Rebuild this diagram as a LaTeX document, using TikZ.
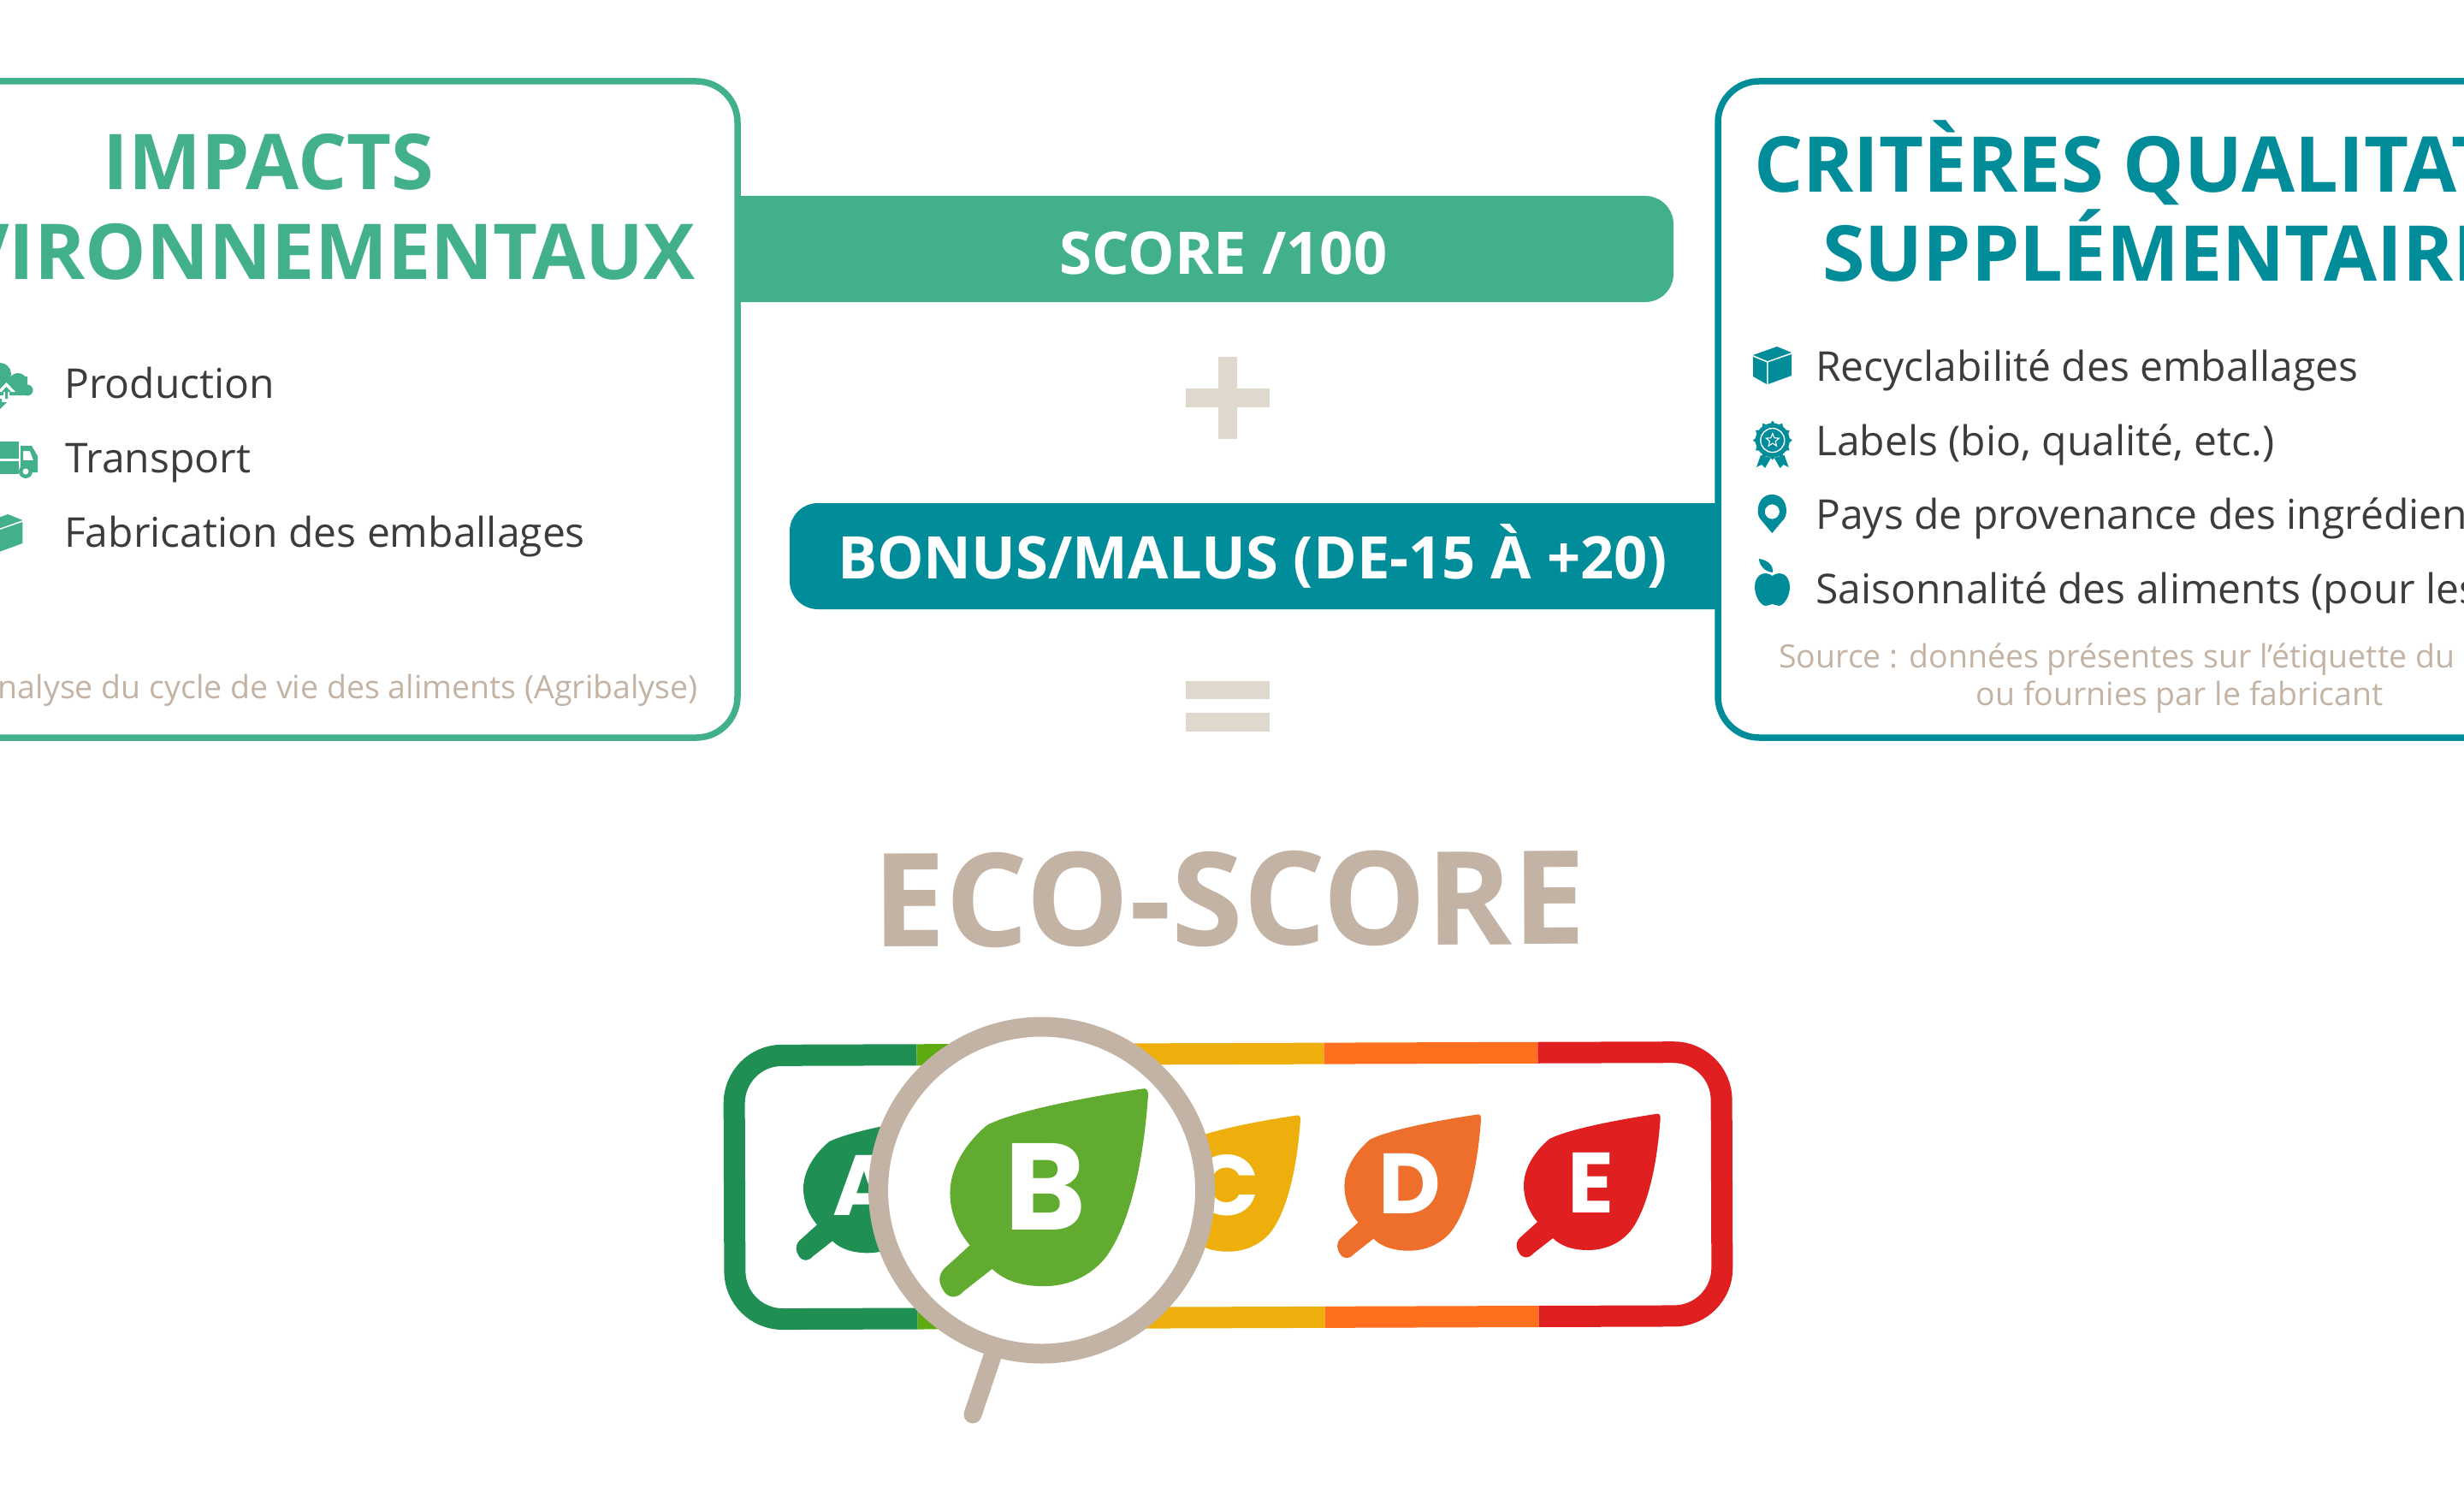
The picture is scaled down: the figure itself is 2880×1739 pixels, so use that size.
\documentclass[tikz,border=0pt]{standalone}
\usepackage{fontspec}
\setmainfont{Open Sans}
\newfontfamily\leaffont{Poppins}
\definecolor{ecoGreen}{HTML}{42B18B}
\definecolor{ecoTeal}{HTML}{008C99}
\definecolor{ecoSand}{HTML}{C3B3A5}
\definecolor{ecoPale}{HTML}{DFD8CC}
\definecolor{ecoDark}{HTML}{3C3C3B}
\definecolor{frameA}{HTML}{1F8F53}
\definecolor{frameB}{HTML}{5DAB10}
\definecolor{frameC}{HTML}{EEAF0D}
\definecolor{frameD}{HTML}{FF6F1E}
\definecolor{frameE}{HTML}{E01F20}
\definecolor{leafB}{HTML}{61AB31}
\definecolor{leafD}{HTML}{EE6E2B}
\newcommand{\fsz}[1]{\fontsize{#1}{#1}\selectfont}
\newcommand{\leafpath}{(75,-83) .. controls (35,-77) and (-25,-66) .. (-49,-54)
  .. controls (-68,-38) and (-79,-18) .. (-79,0.6)
  .. controls (-79,15) and (-74,30) .. (-63,43) -- (-84,62)
  .. controls (-89,68) and (-88,74) .. (-84,80)
  .. controls (-80,86) and (-73,86) .. (-68,80) -- (-45,62)
  .. controls (-35,72) and (-20,76) .. (-4,76)
  .. controls (20,76) and (37,65) .. (47,52)
  .. controls (70,20) and (78,-40) .. (80.6,-77)
  .. controls (81,-83) and (79,-84) .. (75,-83) -- cycle}
\newcommand{\boxicon}[1]{%
  \fill[#1] (0,10) -- (28,0) -- (45,7) -- (17,17) -- cycle;
  \fill[#1] (0,12) -- (16,18.5) -- (16,44) -- (0,35) -- cycle;
  \fill[#1] (17.5,18.5) -- (45,9) -- (45,34) -- (17.5,44) -- cycle;}
\tikzset{
  x=1pt,y=-1pt,
  title/.style={font=\fsz{90}\bfseries,inner sep=0pt},
  item/.style={font=\fsz{48},text=ecoDark,inner sep=0pt,anchor=base west},
  source/.style={font=\fsz{37.5},text=ecoSand,inner sep=0pt},
  bartext/.style={font=\fsz{68.7}\bfseries,text=white,inner sep=0pt,anchor=base},
  sign/.style={fill=ecoPale},
  leafletter/.style={text=white,inner sep=0pt,anchor=base},
}
\begin{document}
\begin{tikzpicture}
\useasboundingbox (0,0) rectangle (2880,1739);
\clip (0,0) rectangle (2880,1739);

% score bar
\fill[ecoGreen] (862,229) {[rounded corners=33pt] -- (1956,229) -- (1956,353)} -- (862,353) -- cycle;
\node[bartext] (score) at (1430,320.5) {SCORE /100};

% bonus bar
\fill[ecoTeal] (2008,588) {[rounded corners=33pt] -- (923,588) -- (923,712)} -- (2008,712) -- cycle;
\node[bartext] (bonus) at (1464,676) {BONUS/MALUS (DE-15 À +20)};

% left box
\draw[ecoGreen,line width=7.5pt,rounded corners=48pt] (-120,95) rectangle (862,862);
\node[title,text=ecoGreen,anchor=base] (t1) at (314,222) {IMPACTS};
\node[title,text=ecoGreen,anchor=base east] (t2) at (813,326) {ENVIRONNEMENTAUX};
\node[item] (l1) at (75,465) {Production};
\node[item] (l2) at (76,552) {Transport};
\node[item] (l3) at (75,639) {Fabrication des emballages};
\node[source,anchor=base east] (l4) at (816,816) {Analyse du cycle de vie des aliments (Agribalyse)};

% left icons
\fill[ecoGreen] (0,437) circle[radius=13pt] (21,447) circle[radius=11pt] (32,456) circle[radius=6.5pt] (-10,440) rectangle (32,462);
\fill[white] (7.5,447) -- (18,458) -- (11,458) -- (11,470) -- (4,470) -- (4,458) -- (-3,458) -- cycle;
\fill[ecoGreen] (7.5,452) -- (13,458) -- (9,458) -- (9,466) -- (6,466) -- (6,458) -- (2,458) -- cycle;
\fill[ecoGreen] (-7,466) -- (2,466) -- (2,470) -- (8,470) -- (0,478) -- (-8,470) -- cycle;
\fill[ecoGreen] (-5,515.6) rectangle (22,536);
\fill[ecoGreen] (-5,539) rectangle (22,554);
\fill[ecoGreen,even odd rule] (24,521) -- (37,521) -- (44,533) -- (44,552) -- (24,552) -- cycle (27,527) -- (27,538) -- (39,538) -- (35,527) -- cycle;
\fill[ecoGreen] (30,551) circle[radius=8pt];
\fill[white] (30,551) circle[radius=3.5pt];
\begin{scope}[shift={(-18.6,601)}]\boxicon{ecoGreen}\end{scope}

% right box
\draw[ecoTeal,line width=7.5pt,rounded corners=48pt] (2008,95) rectangle (3000,862);
\node[title,text=ecoTeal,anchor=base west] (t3) at (2050,224.5) {CRITÈRES QUALITATIFS};
\node[title,text=ecoTeal,anchor=base west] (t4) at (2130,328.5) {SUPPLÉMENTAIRES};
\node[item] (r1) at (2122,445) {Recyclabilité des emballages};
\node[item] (r2) at (2122,532) {Labels (bio, qualité, etc.)};
\node[item] (r3) at (2122,618.5) {Pays de provenance des ingrédients};
\node[item] (r4) at (2122,705) {Saisonnalité des aliments (pour les};
\node[source,anchor=base west] (r5) at (2079,780) {Source : données présentes sur l’étiquette du produit};
\node[source,anchor=base west] (r6) at (2309.5,824) {ou fournies par le fabricant};

% right icons
\begin{scope}[shift={(2049,405)}]\boxicon{ecoTeal}\end{scope}
\fill[ecoTeal] (2071.8,514.6) circle[radius=20pt];
\foreach \a in {0,30,...,330} {\fill[ecoTeal,shift={(2071.8,514.6)}] (\a-10:19pt) -- (\a:23pt) -- (\a+10:19pt) -- cycle;}
\draw[white,line width=1.4pt] (2071.8,514.6) circle[radius=14pt];
\draw[white,line width=1.1pt,shift={(2071.8,514.6)}] (90:8pt) -- (126:3.5pt) -- (162:8pt) -- (198:3.5pt) -- (234:8pt) -- (270:3.5pt) -- (306:8pt) -- (342:3.5pt) -- (18:8pt) -- (54:3.5pt) -- cycle;
\fill[ecoTeal] (2058,532) -- (2053,546) -- (2059,543) -- (2063,547) -- (2070,535) -- cycle;
\fill[ecoTeal] (2085.6,532) -- (2090.6,546) -- (2084.6,543) -- (2080.6,547) -- (2073.6,535) -- cycle;
\fill[ecoTeal,even odd rule] (2071.3,623) -- (2057,606) .. controls (2052,599) and (2054,578) .. (2071.3,578) .. controls (2088.6,578) and (2090.6,599) .. (2085.6,606) -- cycle (2071.3,598) circle[radius=8.6pt];
\fill[ecoTeal] (2071.5,673) .. controls (2062,666) and (2051,672) .. (2051,686) .. controls (2051,697) and (2058,708) .. (2064,708) .. controls (2067,708) and (2069,706) .. (2071.5,706) .. controls (2074,706) and (2076,708) .. (2079,708) .. controls (2085,708) and (2092,697) .. (2092,686) .. controls (2092,672) and (2081,666) .. (2071.5,673) -- cycle;
\fill[ecoTeal] (2056,653) .. controls (2068,655) and (2073,662) .. (2072,669) .. controls (2062,668) and (2056,660) .. (2056,653) -- cycle;

% plus and equals
\fill[sign] (1424,416.5) rectangle (1446,512.5);
\fill[sign] (1386,454) rectangle (1484,475.5);
\fill[sign] (1386,796) rectangle (1484,817.4);
\fill[sign] (1386,833) rectangle (1484,854.5);

% eco-score
\node[font=\fsz{152}\bfseries,text=ecoSand,inner sep=0pt,anchor=base,rotate=0.2] (eco) at (1437,1105) {ECO-SCORE};

% label frame
\begin{scope}[rotate around={0.2:(1435.5,1385.6)}]
  \foreach \xa/\xb/\c in {800/1072/frameA,1072/1326/frameB,1326/1548/frameC,1548/1798/frameD,1798/2100/frameE}{
    \begin{scope}
      \clip (\xa,1150) rectangle (\xb,1620);
      \draw[\c,line width=25pt,rounded corners=56pt] (858.5,1231.5) rectangle (2012.5,1539.75);
    \end{scope}}
\end{scope}

% leaves
\fill[frameA,shift={(1018,1388.3)}] \leafpath;
\node[leafletter,font=\fsz{100}\leaffont\bfseries] (la) at (1010,1420) {A};
\fill[frameC,shift={(1439.3,1386.7)}] \leafpath;
\node[leafletter,font=\fsz{100}\leaffont\bfseries] (lc) at (1434,1420) {C};
\fill[leafD,shift={(1650.4,1385.7)}] \leafpath;
\node[leafletter,font=\fsz{100}\leaffont\bfseries] (ld) at (1648,1418) {D};
\fill[frameE,shift={(1860,1385)}] \leafpath;
\node[leafletter,font=\fsz{100}\leaffont\bfseries] (le) at (1860,1417) {E};

% magnifier
\draw[ecoSand,line width=21pt,line cap=round] (1165,1570) -- (1137,1653);
\draw[ecoSand,line width=23pt,fill=white] (1217.5,1391) circle[radius=191pt];
\fill[leafB,shift={(1225,1393)},scale=1.45] \leafpath;
\node[leafletter,font=\fsz{144}\leaffont\bfseries] (lb) at (1221.5,1437) {B};
\end{tikzpicture}
\end{document}
